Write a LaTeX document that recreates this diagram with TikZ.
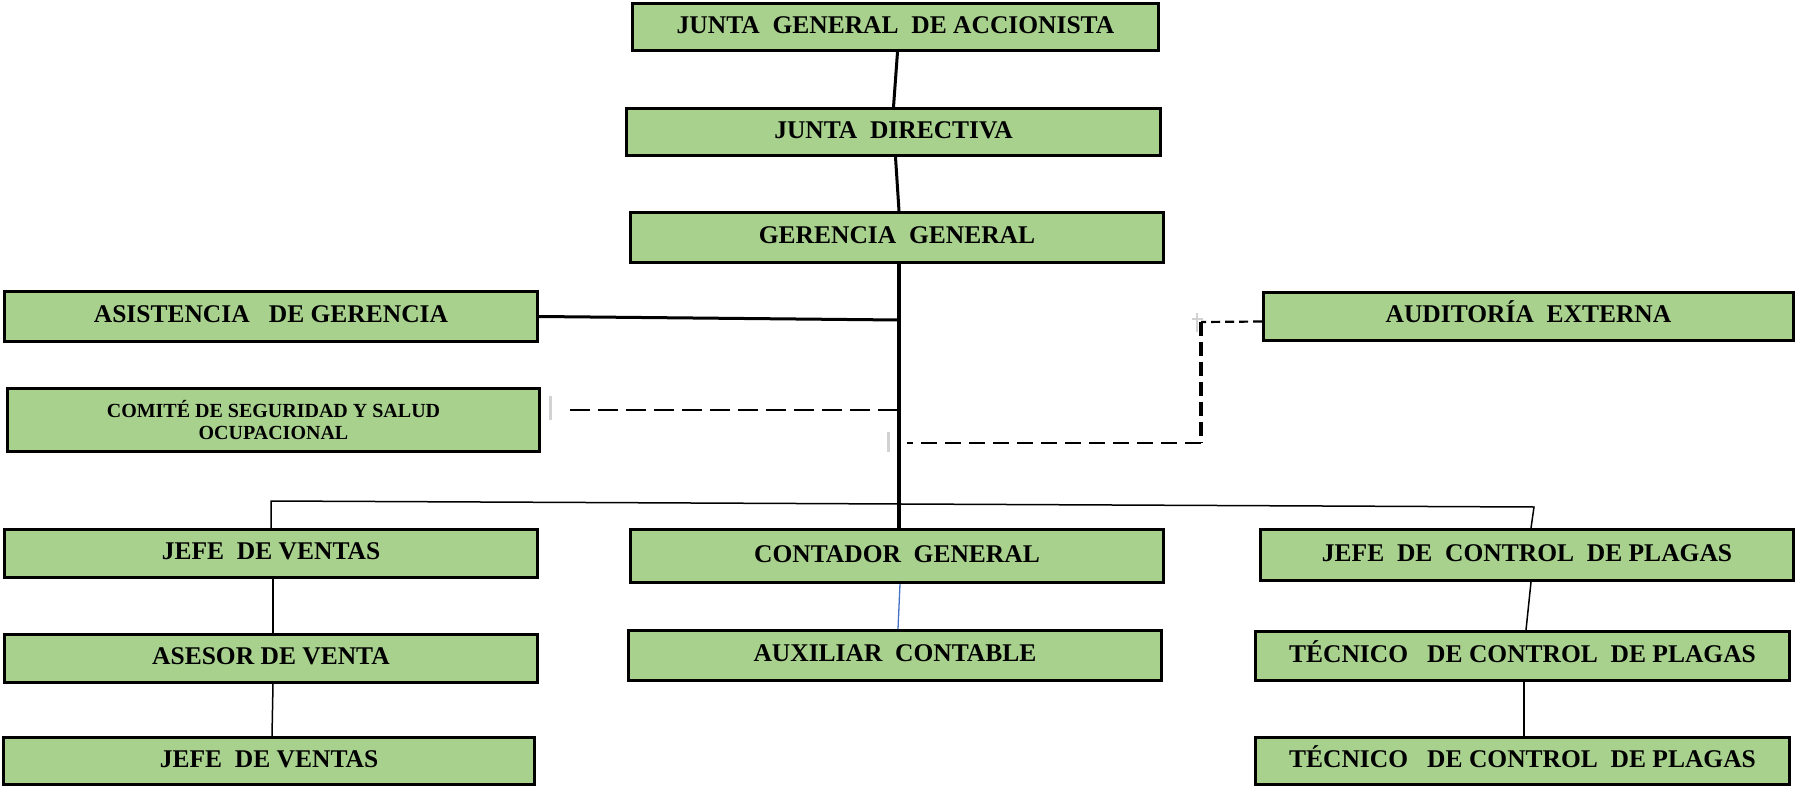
\documentclass[tikz,border=0pt]{standalone}
\usepackage{fontspec}
\setmainfont{Liberation Serif}
\definecolor{boxgreen}{RGB}{169,209,142}
\definecolor{artgray}{RGB}{210,210,210}
\definecolor{linkblue}{RGB}{68,114,196}
\begin{document}
\begin{tikzpicture}[x=1pt,y=-1pt,
  orgbox/.style={draw=black,line width=3pt,fill=boxgreen,inner sep=0pt,align=center,
    font=\fontsize{25.5}{27}\selectfont\bfseries},
  onebox/.style={orgbox,text height=18pt,text depth=6pt},
  thickline/.style={line width=3pt},
  trunkline/.style={line width=4pt},
  thinline/.style={line width=1.5pt},
  dashcom/.style={line width=2.5pt,dash pattern=on 20pt off 8pt},
  dashaud/.style={line width=2.5pt,dash pattern=on 16pt off 8pt},
  dashaudv/.style={line width=3.5pt,dash pattern=on 14pt off 6pt},
  dashaudt/.style={line width=2.2pt,dash pattern=on 9pt off 5pt},
  artmark/.style={draw=artgray,line width=3pt}
]
\useasboundingbox (0,0) rectangle (1797,787);

\node[onebox,minimum width=526pt,minimum height=47pt] (jga) at (895.5,27) {JUNTA~~GENERAL~~DE ACCIONISTA};
\node[onebox,minimum width=534pt,minimum height=47pt] (jd) at (893.5,132) {JUNTA~~DIRECTIVA};
\node[onebox,minimum width=533pt,minimum height=50pt] (gg) at (897,237.5) {GERENCIA~~GENERAL};
\node[onebox,minimum width=533pt,minimum height=50pt] (asi) at (271,316.5) {ASISTENCIA~~~DE GERENCIA};
\node[orgbox,minimum width=532pt,minimum height=63pt,font=\fontsize{20}{21.5}\selectfont\bfseries] (com) at (273.5,420) {COMITÉ DE SEGURIDAD Y SALUD\\OCUPACIONAL};
\node[onebox,minimum width=530pt,minimum height=48pt] (aud) at (1528.5,316.5) {AUDITORÍA~~EXTERNA};
\node[onebox,minimum width=533pt,minimum height=48pt] (jv1) at (271,553.5) {JEFE~~DE VENTAS};
\node[onebox,minimum width=533pt,minimum height=53pt] (con) at (897,556) {CONTADOR~~GENERAL};
\node[onebox,minimum width=533pt,minimum height=51pt] (jcp) at (1527,555) {JEFE~~DE~~CONTROL~~DE PLAGAS};
\node[onebox,minimum width=533pt,minimum height=48pt] (ase) at (271,658.5) {ASESOR DE VENTA};
\node[onebox,minimum width=533pt,minimum height=50pt] (aux) at (895,655.5) {AUXILIAR~~CONTABLE};
\node[onebox,minimum width=534pt,minimum height=49pt] (tec1) at (1522.5,656) {TÉCNICO~~~DE CONTROL~~DE PLAGAS};
\node[onebox,minimum width=531pt,minimum height=47pt] (jv2) at (269,761) {JEFE~~DE VENTAS};
\node[onebox,minimum width=534pt,minimum height=47pt] (tec2) at (1522.5,761) {TÉCNICO~~~DE CONTROL~~DE PLAGAS};

% helper coordinates
\coordinate (tasi) at (899,320);
\coordinate (tcom) at (899,410);
\coordinate (comstart) at (570,410);
\coordinate (audcorner) at (1201,322);
\coordinate (audlow) at (1201,443);
\coordinate (taud) at (907,443);
\coordinate (busl) at (271,501);
\coordinate (busr) at (1534,507);

% main vertical connectors
\draw[thickline] ([xshift=2pt]jga.south) -- (jd.north);
\draw[thickline] ([xshift=2pt]jd.south) -- ([xshift=2pt]gg.north);
\draw[trunkline] ([xshift=2pt]gg.south) -- ([xshift=2pt]con.north);
\draw[thickline] (asi.east) -- (tasi);

% dashed links
\draw[dashcom] (comstart) -- (tcom);
\draw[dashaudt] ([yshift=-5pt]aud.west) -- (audcorner);
\draw[dashaudv] (audcorner) -- (audlow);
\draw[dashaud] (audlow) -- (taud);

% distribution bus
\draw[thinline] (jv1.north) -- (busl) -- (busr) -- ([xshift=4pt]jcp.north);

% lower chains
\draw[line width=1.3pt,linkblue] ([xshift=3pt]con.south) -- ([xshift=3pt]aux.north);
\draw[thinline] ([xshift=2pt]jv1.south) -- ([xshift=2pt]ase.north);
\draw[thinline] ([xshift=2pt]ase.south) -- ([xshift=3pt]jv2.north);
\draw[thinline] ([xshift=4pt]jcp.south) -- ([xshift=3.5pt]tec1.north);
\draw[thinline] ([xshift=1.5pt]tec1.south) -- ([xshift=1.5pt]tec2.north);

% light gray selection artefacts
\draw[artmark] (550,396) -- (550,420);
\draw[artmark] (888,432) -- (888,452);
\draw[artgray,line width=2.5pt] (1197,313) -- (1197,332);
\draw[artgray,line width=2pt] (1192,319) -- (1203,319);
\end{tikzpicture}
\end{document}
